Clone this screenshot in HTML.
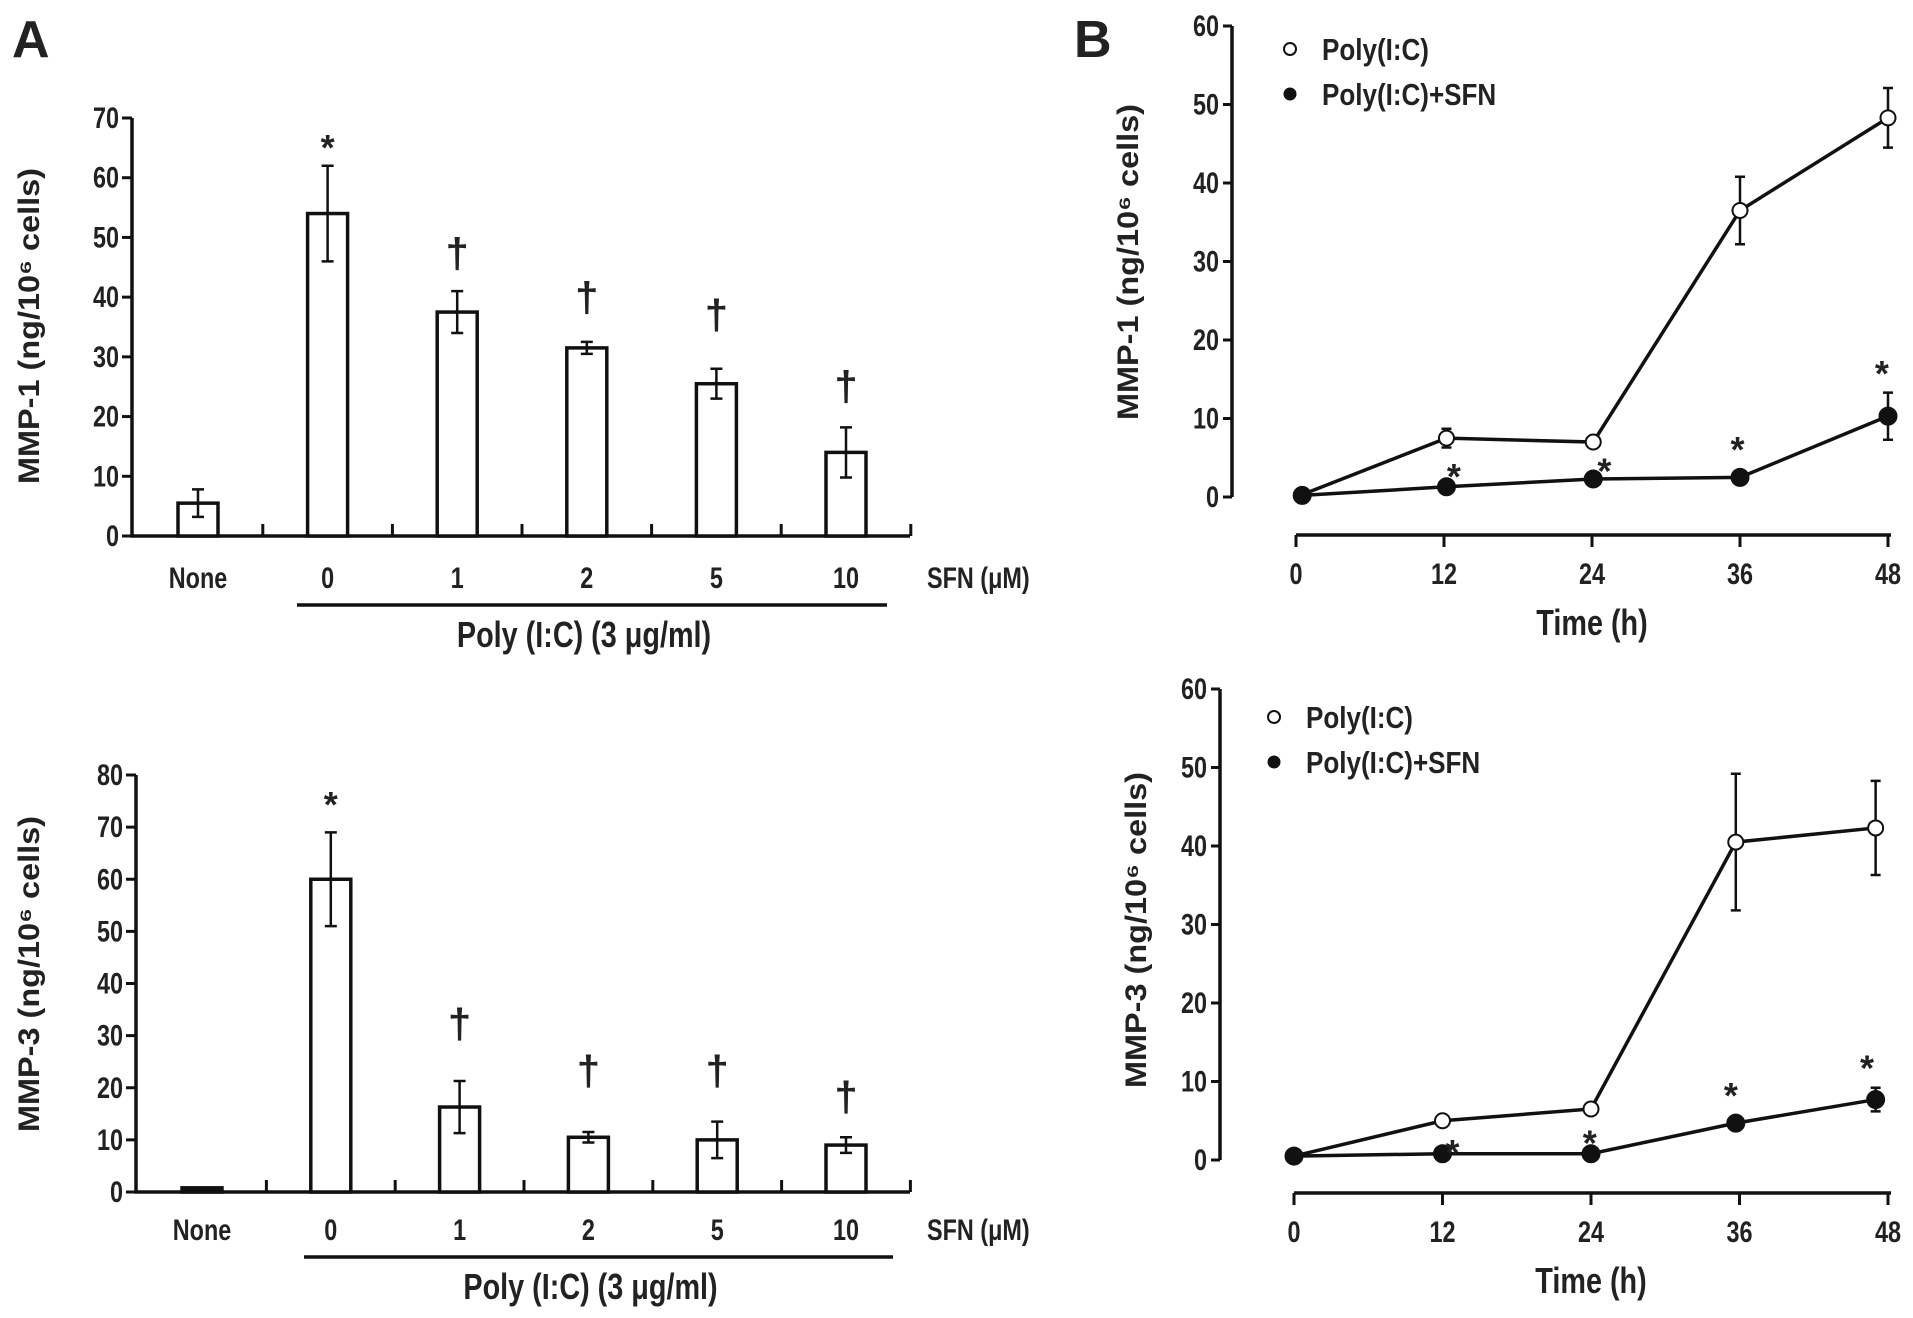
<!DOCTYPE html>
<html><head><meta charset="utf-8"><style>
html,body{margin:0;padding:0;background:#fff}
svg{display:block}
text{font-family:"Liberation Sans",sans-serif;font-weight:bold;fill:#222}
</style></head><body>
<svg id="fig" width="1913" height="1318" viewBox="0 0 1913 1318" xmlns="http://www.w3.org/2000/svg">
<text x="12" y="57" font-size="52">A</text>
<text x="1074" y="57" font-size="52">B</text>
</svg>
<script>
const barCategories = ["None","0","1","2","5","10"];
const mmp1BarValues = [5.5,54,37.5,31.5,25.5,14];
const mmp1BarErrors = [2.3,8,3.5,1,2.5,4.2];
const mmp1BarMarks = ["","*","†","†","†","†"];
const mmp1BarMarkY = [0,67,48,40.6,37.7,25.7];
const mmp1BarTicks = [0,10,20,30,40,50,60,70];
const mmp3BarValues = [0.8,60,16.3,10.5,10,9];
const mmp3BarErrors = [0,9,5,1,3.5,1.5];
const mmp3BarMarks = ["","*","†","†","†","†"];
const mmp3BarMarkY = [0,76.5,33,24,24,19];
const mmp3BarTicks = [0,10,20,30,40,50,60,70,80];

const timeTicks = [0,12,24,36,48];
const mmp1Times = [0.5,12.2,24.1,36,48];
const mmp1Poly = [0.3,7.5,7,36.5,48.3];
const mmp1PolyErr = [0,1.2,0.5,4.3,3.8];
const mmp1Sfn = [0.2,1.3,2.3,2.5,10.3];
const mmp1SfnErr = [0,0.5,0.5,0.5,3];
const mmp1StarTimes = [12.8,25,35.8,47.5];
const mmp1StarY = [4.1,4.8,7.5,17.2];
const mmp3Times = [0,12,24,35.7,47];
const mmp3Poly = [0.5,5,6.5,40.5,42.3];
const mmp3PolyErr = [0,0.7,0.5,8.7,6];
const mmp3Sfn = [0.5,0.8,0.8,4.7,7.7];
const mmp3SfnErr = [0,0,0,0.5,1.5];
const mmp3StarTimes = [12.8,23.9,35.3,46.3];
const mmp3StarY = [2.4,3.6,9.7,13.2];
const lineTicks = [0,10,20,30,40,50,60];

const NS="http://www.w3.org/2000/svg";
const svg=document.getElementById('fig');
function el(tag,attrs,parent){const e=document.createElementNS(NS,tag);for(const k in attrs)e.setAttribute(k,attrs[k]);(parent||svg).appendChild(e);return e;}
function txt(s,attrs,parent){const t=el('text',attrs,parent);t.textContent=s;return t;}
function ntxt(s,x,y,size,anchor,sx,parent){
  const t=el('text',{x:0,y:0,'font-size':size,'text-anchor':anchor||'start',transform:`translate(${x},${y}) scale(${sx||0.8},1)`},parent);
  t.textContent=s;return t;
}

function barPanel(name,o,vals,errs,marks,markY,ticks,ylabel){
  const g=el('g',{});
  
  
  const ys=v=>o.y0-(v-ticks[0])/(ticks[ticks.length-1]-ticks[0])*(o.y0-o.yTop);
  const xc=i=>o.c0+i*o.step;
  const ax=el('path',{d:`M${o.ax} ${o.yTop}V${o.y0}H${o.xEnd}`,stroke:'#111','stroke-width':3.5,fill:'none'},g);
  
  
  ticks.forEach(t=>{
    el('line',{x1:o.ax-10,x2:o.ax,y1:ys(t),y2:ys(t),stroke:'#111','stroke-width':3},g);
    const tl=ntxt(String(t),o.ax-13,ys(t)+10,30,'end',0.78,g);
    
    
  });
  for(let i=0;i<barCategories.length;i++){
    const xt=o.c0+(i+0.5)*o.step;
    el('line',{x1:xt,x2:xt,y1:o.y0-12,y2:o.y0,stroke:'#111','stroke-width':3},g);
  }
  barCategories.forEach((c,i)=>{
    const x=xc(i),v=vals[i],w=40;
    const r=el('rect',{x:x-w/2,y:ys(v),width:w,height:o.y0-ys(v),fill:i===0&&v<1.5?'#111':'#fff',stroke:'#111','stroke-width':3.5},g);
    
    
    if(errs[i]>0){
      el('path',{d:`M${x} ${ys(v-errs[i])}V${ys(v+errs[i])}M${x-6} ${ys(v+errs[i])}H${x+6}M${x-6} ${ys(v-errs[i])}H${x+6}`,stroke:'#111','stroke-width':2.5,fill:'none'},g);
    }
    if(marks[i]){
      const m=txt(marks[i],{x:x,y:ys(markY[i])+(marks[i]==='*'?24:18),'font-size':marks[i]==='*'?36:42,'text-anchor':'middle'},g);
      
      
    }
    const cl=ntxt(c,x,o.catY,30,'middle',0.78,g);
    
    
  });
  const sfn=ntxt('SFN (μM)',o.xEnd+17,o.catY,30,'start',0.78,g);
  
  
  el('line',{x1:o.ulx1,x2:o.ulx2,y1:o.ulY,y2:o.ulY,stroke:'#111','stroke-width':3.5},g);
  const pl=ntxt('Poly (I:C) (3 μg/ml)',(o.ulx1+o.ulx2)/2-8,o.ulY+42,36,'middle',0.8,g);
  
  
  const yl=txt(ylabel,{x:0,y:0,'font-size':30,'text-anchor':'middle',transform:`translate(${o.ylx},${o.yly}) rotate(-90)`,textLength:316,lengthAdjust:'spacingAndGlyphs'},g);
  
  
}

function linePanel(name,o,times,poly,polyErr,sfn,sfnErr,starT,starY,ylabel){
  const g=el('g',{});
  
  
  const ys=v=>o.y0-v/60*(o.y0-o.yTop);
  const xs=t=>o.x0+t/48*(o.x48-o.x0);
  el('line',{x1:o.ax,x2:o.ax,y1:o.yTop,y2:o.y0,stroke:'#111','stroke-width':3.5},g);
  lineTicks.forEach(t=>{
    el('line',{x1:o.ax-9,x2:o.ax,y1:ys(t),y2:ys(t),stroke:'#111','stroke-width':3},g);
    const tl=ntxt(String(t),o.ax-13,ys(t)+10,30,'end',0.78,g);
    
    
  });
  el('line',{x1:o.x0,x2:o.x48+3,y1:o.xAxY,y2:o.xAxY,stroke:'#111','stroke-width':3.5},g);
  timeTicks.forEach(t=>{
    el('line',{x1:xs(t),x2:xs(t),y1:o.xAxY,y2:o.xAxY+12,stroke:'#111','stroke-width':3},g);
    const tl=ntxt(String(t),xs(t),o.xAxY+49,30,'middle',0.78,g);
    
    
  });
  const xt=ntxt('Time (h)',(o.x0+o.x48)/2,o.xAxY+100,36,'middle',0.8,g);
  
  
  function series(vals,err,filled,nm){
    const p=el('polyline',{points:vals.map((v,i)=>xs(times[i])+','+ys(v)).join(' '),fill:'none',stroke:'#111','stroke-width':3.5},g);
    
    
    vals.forEach((v,i)=>{
      const x=xs(times[i]);
      if(err[i]>0) el('path',{d:`M${x} ${ys(v-err[i])}V${ys(v+err[i])}M${x-5} ${ys(v+err[i])}H${x+5}M${x-5} ${ys(v-err[i])}H${x+5}`,stroke:'#111','stroke-width':2.5,fill:'none'},g);
      const c=el('circle',{cx:x,cy:ys(v),r:filled?8.5:7.5,fill:filled?'#111':'#fff',stroke:'#111','stroke-width':2},g);
      
      
    });
  }
  series(poly,polyErr,false,'poly-ic');
  series(sfn,sfnErr,true,'poly-ic-sfn');
  starT.forEach((t,i)=>{
    const s=txt('*',{x:xs(t),y:ys(starY[i])+24,'font-size':36,'text-anchor':'middle'},g);
    
    
  });
  const l1=el('circle',{cx:o.legX,cy:o.legY,r:6,fill:'#fff',stroke:'#111','stroke-width':2},g);
  
  
  const t1=ntxt('Poly(I:C)',o.legX+32,o.legY+11,31,'start',0.84,g);
  
  
  const l2=el('circle',{cx:o.legX,cy:o.legY+45,r:6.5,fill:'#111'},g);
  
  
  const t2=ntxt('Poly(I:C)+SFN',o.legX+32,o.legY+56,31,'start',0.84,g);
  
  
  const yl=txt(ylabel,{x:0,y:0,'font-size':30,'text-anchor':'middle',transform:`translate(${o.ylx},${o.yly}) rotate(-90)`,textLength:316,lengthAdjust:'spacingAndGlyphs'},g);
  
  
}

barPanel('mmp1-bar-chart',{ax:132,yTop:118,y0:536,xEnd:910,c0:198,step:129.6,catY:588,ulx1:297,ulx2:887,ulY:605,ylx:39,yly:326},
  mmp1BarValues,mmp1BarErrors,mmp1BarMarks,mmp1BarMarkY,mmp1BarTicks,'MMP-1 (ng/10⁶ cells)');
barPanel('mmp3-bar-chart',{ax:136,yTop:775,y0:1192,xEnd:910,c0:202,step:128.8,catY:1240,ulx1:304,ulx2:893,ulY:1257,ylx:39,yly:974},
  mmp3BarValues,mmp3BarErrors,mmp3BarMarks,mmp3BarMarkY,mmp3BarTicks,'MMP-3 (ng/10⁶ cells)');
linePanel('mmp1-time-course',{ax:1232,yTop:26,y0:497,x0:1296,x48:1888,xAxY:535,legX:1290,legY:49,ylx:1138,yly:262},
  mmp1Times,mmp1Poly,mmp1PolyErr,mmp1Sfn,mmp1SfnErr,mmp1StarTimes,mmp1StarY,'MMP-1 (ng/10⁶ cells)');
linePanel('mmp3-time-course',{ax:1220,yTop:689,y0:1160,x0:1294,x48:1888,xAxY:1193,legX:1274,legY:717,ylx:1146,yly:930},
  mmp3Times,mmp3Poly,mmp3PolyErr,mmp3Sfn,mmp3SfnErr,mmp3StarTimes,mmp3StarY,'MMP-3 (ng/10⁶ cells)');
</script>
</body></html>
